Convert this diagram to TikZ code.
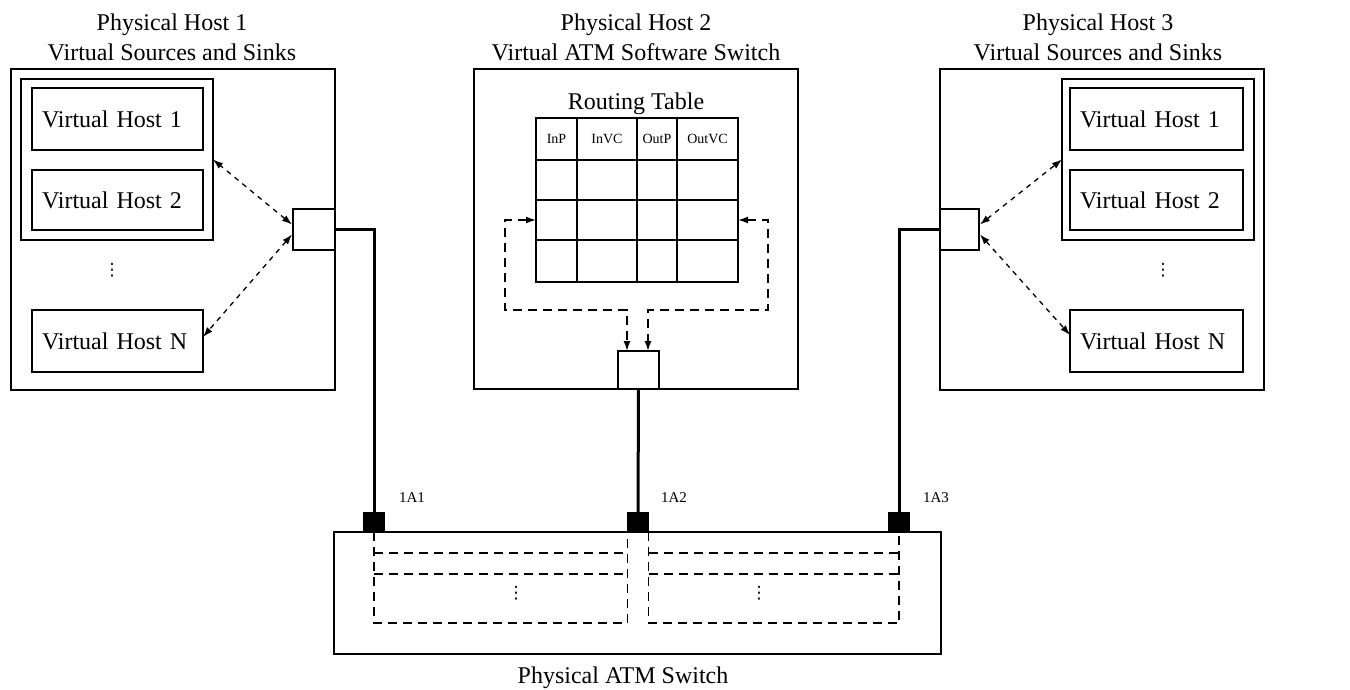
\documentclass[tikz,border=0pt]{standalone}
\usepackage{fontspec}
\setmainfont{Liberation Serif}
\newfontfamily\dejavu{DejaVu Sans}
\usetikzlibrary{arrows.meta,calc}
\tikzset{
  box/.style={draw, line width=1.7pt, inner sep=0pt, outer sep=0pt, anchor=north west},
  vhbox/.style={box, inner xsep=10pt, align=left, font=\fontsize{24}{28}\selectfont},
  lbl/.style={font=\fontsize{24}{30}\selectfont, inner sep=0pt, align=center},
  hdr/.style={font=\fontsize{14}{16}\selectfont, inner sep=0pt},
  plbl/.style={font=\fontsize{15}{17}\selectfont, inner sep=0pt},
  dotcol/.style={font=\dejavu\fontsize{17}{17}\selectfont, inner sep=0pt},
  blk/.style={draw, fill=black, line width=0.8pt, minimum width=21pt, minimum height=20pt, inner sep=0pt, outer sep=0pt},
  tline/.style={line width=1.8pt},
  wire/.style={line width=3pt},
  harrow/.style={line width=1.3pt, dash pattern=on 5pt off 5pt, {Latex[length=10pt,width=7pt]}-{Latex[length=10pt,width=7pt]}},
  loopar/.style={line width=1.5pt, dash pattern=on 9pt off 6pt, {Latex[length=10pt,width=7pt]}-{Latex[length=10pt,width=7pt]}},
  sdash/.style={line width=1.5pt, dash pattern=on 9pt off 6pt},
}
\begin{document}
\begin{tikzpicture}[x=1pt,y=-1pt]
\useasboundingbox (0,0) rectangle (1350,690);

% ---------- Physical Host 1 ----------
\node[lbl] (t1) at (172,37) {Physical Host 1\\Virtual Sources and Sinks};
\node[box, minimum width=324pt, minimum height=321pt] (host1) at (11,69) {};
\node[box, minimum width=192pt, minimum height=161pt] (grp1) at (21,79) {};
\node[vhbox, text width=151pt, minimum height=62pt] (vh1a) at (32,88) {Virtual Host 1};
\node[vhbox, text width=151pt, minimum height=60pt] (vh2a) at (32,170) {Virtual Host 2};
\node[dotcol] (d1) at (112,270) {⋮};
\node[vhbox, text width=151pt, minimum height=62pt] (vhna) at (32,310) {Virtual Host N};
\node[box, minimum width=42pt, minimum height=41pt] (port1) at (293,209) {};
\draw[harrow] ($(port1.west)+(-1,-5)$) -- (grp1.east);
\draw[harrow] ($(port1.west)+(-1,5)$) -- ($(vhna.east)+(0,-4)$);

% ---------- Physical Host 2 ----------
\node[lbl] (t2) at (636,37) {Physical Host 2\\Virtual ATM Software Switch};
\node[box, minimum width=324pt, minimum height=320pt] (host2) at (474,69) {};
\node[lbl] (rt) at (636,104) {Routing Table};
\node[box, line width=1.8pt, minimum width=202pt, minimum height=164pt] (tbl) at (536,118) {};
\draw[tline] (577,118) -- (577,282);
\draw[tline] (637,118) -- (637,282);
\draw[tline] (677,118) -- (677,282);
\draw[tline] (536,160) -- (738,160);
\draw[tline] (536,200) -- (738,200);
\draw[tline] (536,240) -- (738,240);
\node[hdr] (h1) at (556.5,139) {InP};
\node[hdr] (h2) at (607,139) {InVC};
\node[hdr] (h3) at (657,139) {OutP};
\node[hdr] (h4) at (707.5,139) {OutVC};
\node[box, minimum width=41pt, minimum height=38pt] (port2) at (618,351) {};
\draw[loopar] ($(tbl.north west)+(0,102)$) -- ++(-31,0) -- ++(0,90) -| ($(port2.north west)+(9,0)$);
\draw[loopar] ($(tbl.north east)+(0,102)$) -- ++(30,0) -- ++(0,90) -| ($(port2.north east)+(-11,0)$);

% ---------- Physical Host 3 ----------
\node[lbl] (t3) at (1098,37) {Physical Host 3\\Virtual Sources and Sinks};
\node[box, minimum width=324pt, minimum height=321pt] (host3) at (940,69) {};
\node[box, minimum width=192pt, minimum height=161pt] (grp3) at (1062,79) {};
\node[vhbox, text width=153pt, minimum height=62pt] (vh1c) at (1070,88) {Virtual Host 1};
\node[vhbox, text width=153pt, minimum height=60pt] (vh2c) at (1070,170) {Virtual Host 2};
\node[dotcol] (d3) at (1163,270) {⋮};
\node[vhbox, text width=153pt, minimum height=62pt] (vhnc) at (1070,310) {Virtual Host N};
\node[box, minimum width=39pt, minimum height=41pt] (port3) at (940,209) {};
\draw[harrow] ($(port3.east)+(1,-5)$) -- (grp3.west);
\draw[harrow] ($(port3.east)+(1,5)$) -- ($(vhnc.west)+(0,-6)$);

% ---------- Physical ATM Switch ----------
\node[box, minimum width=607pt, minimum height=122pt] (sw) at (334,532) {};
\node[blk] (sq1) at (374,522) {};
\node[blk] (sq2) at (638,522) {};
\node[blk] (sq3) at (899,522) {};
\node[plbl] (l1) at (412,498) {1A1};
\node[plbl] (l2) at (674,498) {1A2};
\node[plbl] (l3) at (936,498) {1A3};
\node[lbl] (swl) at (623,678) {Physical ATM Switch};

\draw[wire] (port1.east) -| (sq1.north);
\draw[wire] (port2.south) -- (sq2.north);
\draw[wire] (port3.west) -| (sq3.north);

\draw[sdash] (sq1.south) -- ++(0,91) -| (sq2.south west);
\draw[sdash] ($(sq1.south)+(0,21)$) -- ($(sq2.south west)+(0,21)$);
\draw[sdash] ($(sq1.south)+(0,42)$) -- ($(sq2.south west)+(0,42)$);
\draw[sdash] (sq2.south east) -- ++(0,91) -| (sq3.south);
\draw[sdash] ($(sq2.south east)+(0,21)$) -- ($(sq3.south)+(0,21)$);
\draw[sdash] ($(sq2.south east)+(0,42)$) -- ($(sq3.south)+(0,42)$);
\node[dotcol] (d4) at (516,593) {⋮};
\node[dotcol] (d5) at (759,593) {⋮};
\end{tikzpicture}
\end{document}
